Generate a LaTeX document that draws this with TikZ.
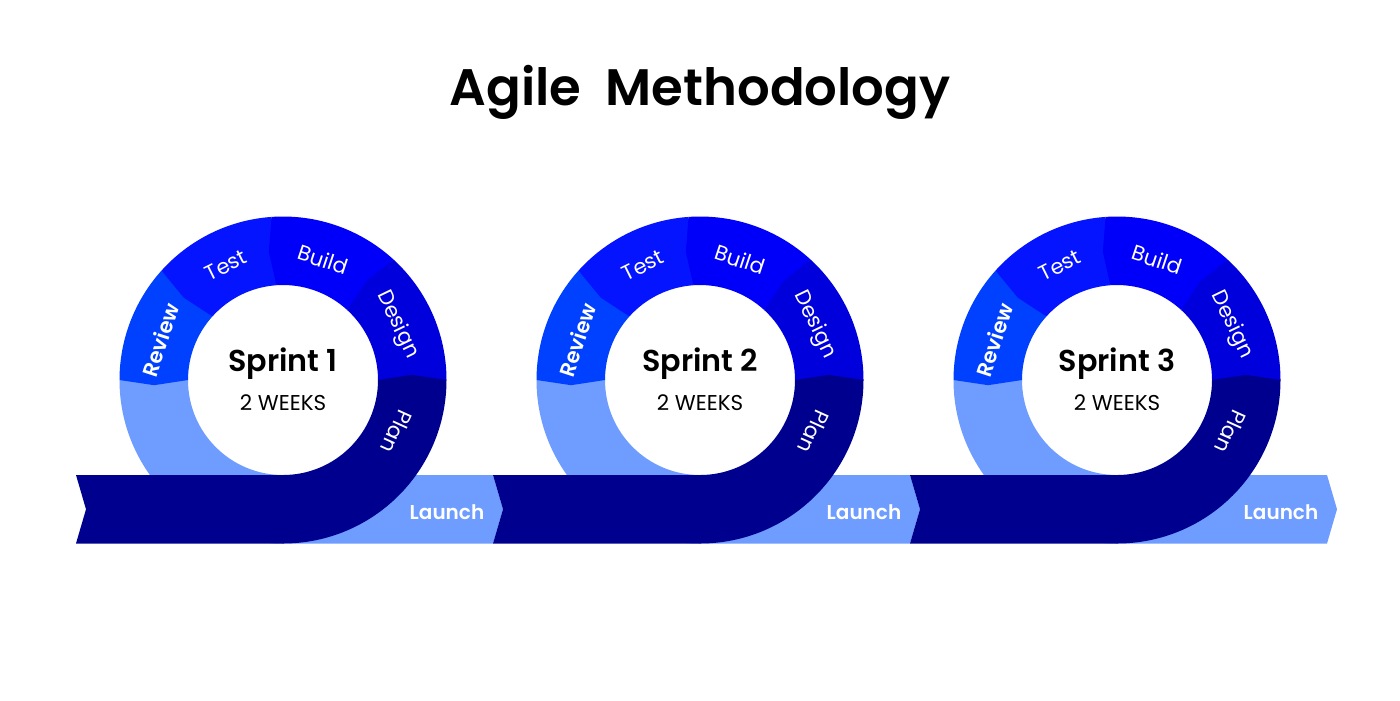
\documentclass[tikz,border=0pt]{standalone}
\usepackage{fontspec}
\setmainfont{Poppins}
\newfontfamily\semibold{Poppins SemiBold}

\definecolor{navyblue}{HTML}{00008F}
\definecolor{designblue}{HTML}{0000DC}
\definecolor{buildblue}{HTML}{0000FA}
\definecolor{testblue}{HTML}{0514FF}
\definecolor{reviewblue}{HTML}{0040FF}
\definecolor{launchblue}{HTML}{6E9CFF}

\def\ringout{1.635}
\def\ringin{0.95}
\def\ringmid{1.29}

% one part of the ring, with its tip pointing counterclockwise
\newcommand{\ringpart}[3]{%
  \fill[#3] (#1:\ringout) arc[start angle=#1, end angle=#2, radius=\ringout]
    -- ({#2+2.3}:\ringmid) -- (#2:\ringin)
    arc[start angle=#2, end angle=#1, radius=\ringin] -- cycle;}

\tikzset{
  headline/.style={font=\fontsize{14.6}{17}\semibold},
  sprintname/.style={font=\fontsize{8.6}{10}\semibold},
  weeks/.style={font=\fontsize{6.1}{7}\selectfont},
  phase/.style={white, font=\fontsize{6}{7}\selectfont},
  launch/.style={white, font=\fontsize{5.7}{7}\semibold},
}

\begin{document}
\begin{tikzpicture}
  \useasboundingbox (0,0) rectangle (14,7);
  \node[headline] (title) at (7,6.08) {Agile\ \ Methodology};

  \foreach \i in {1,2,3} {
    \pgfmathsetmacro{\cx}{2.83+4.17*(\i-1)}
    \begin{scope}[shift={(\cx,3.2)}]
      \coordinate (c\i) at (0,0);
      % band: light part (launch) and dark part
      \fill[launchblue] (0,-0.95) -- (2.10,-0.95) -- (2.20,-1.2925) -- (2.10,-1.635) -- (0,-1.635) -- cycle;
      \fill[launchblue] (180:\ringout) arc[start angle=180, end angle=270, radius=\ringout]
        -- (270:\ringin) arc[start angle=270, end angle=180, radius=\ringin] -- cycle;
      \fill[navyblue] (-2.07,-0.95) -- (0,-0.95) -- (0,-1.635) -- (-2.07,-1.635) -- (-1.97,-1.2925) -- cycle;

      % ring parts
      \ringpart{138}{180}{reviewblue}
      \ringpart{94}{138}{testblue}
      \ringpart{47.5}{94}{buildblue}
      \ringpart{0}{47.5}{designblue}
      \ringpart{-90}{0}{navyblue}

      % labels
      \node[phase] (plan\i) at (-24.5:1.25) [rotate=-114.5] {Plan};
      \node[phase] (design\i) at (25.8:1.27) [rotate=-64.2] {Design};
      \node[phase] (build\i) at (71.6:1.27) [rotate=-18.4] {Build};
      \node[phase] (test\i) at (116.4:1.28) [rotate=26.4] {Test};
      \node[phase, font=\fontsize{6}{7}\semibold] (review\i) at (162:1.29) [rotate=72] {Review};
      \node[launch] (launch\i) at (1.64,-1.32) {Launch};

      \node[sprintname] (sprint\i) at (0,0.16) {Sprint \i};
      \node[weeks] (weeks\i) at (0,-0.23) {2 WEEKS};
    \end{scope}
  }
\end{tikzpicture}
\end{document}
